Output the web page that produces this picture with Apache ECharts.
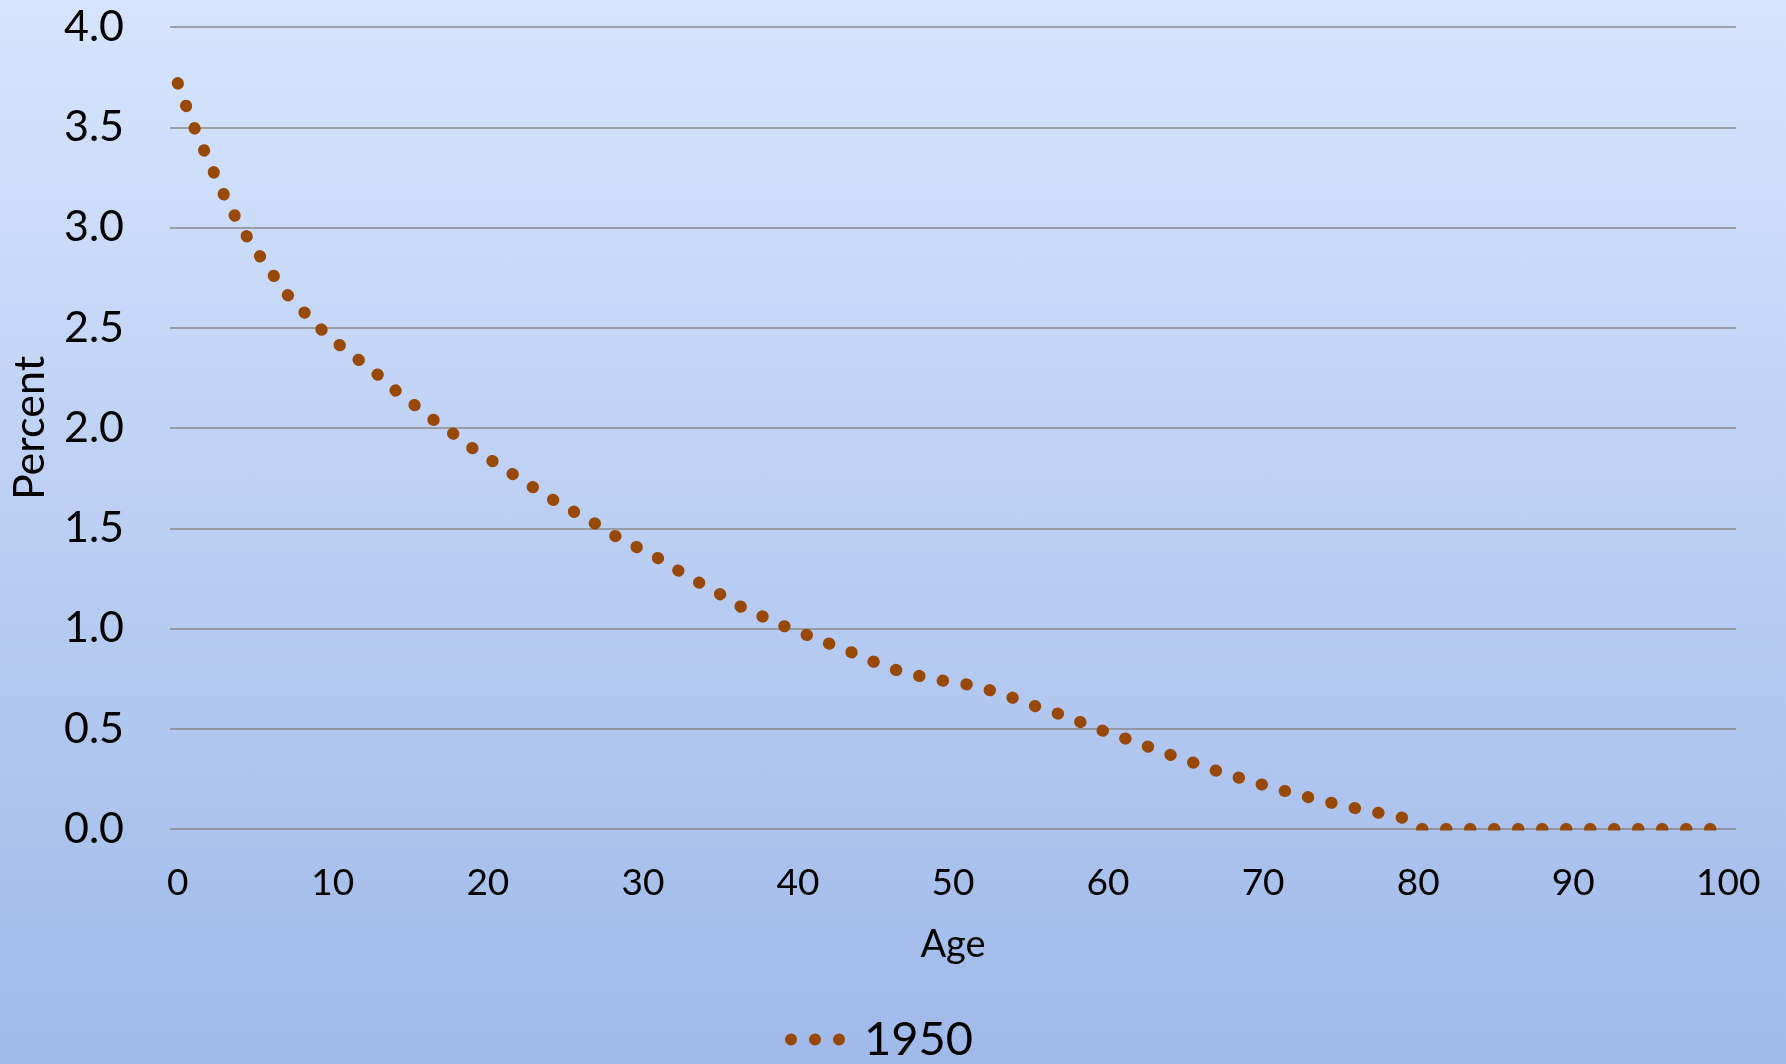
<!DOCTYPE html>
<html>
<head>
<meta charset="utf-8">
<script src="https://cdn.jsdelivr.net/npm/echarts@6/dist/echarts.min.js"></script>
<style>
  html, body { margin: 0; padding: 0; }
  #chart {
    width: 1786px;
    height: 1064px;
    background: linear-gradient(to bottom, #D6E4FD 0%, #A0B9E9 100%);
  }
</style>
</head>
<body>
<div id="chart"></div>
<script>
// Single-year ages 0..100 (category axis)
const ages = Array.from({ length: 101 }, (_, i) => String(i));

// Share of population at each age, 1950 (percent)
const pct1950 = [
  3.72, 3.51, 3.33, 3.16, 3.01, 2.89, 2.78, 2.67, 2.59, 2.51,
  2.44, 2.38, 2.32, 2.26, 2.19, 2.13, 2.07, 2.01, 1.96, 1.90,
  1.85, 1.80, 1.75, 1.70, 1.65, 1.61, 1.56, 1.52, 1.47, 1.43,
  1.39, 1.35, 1.30, 1.26, 1.21, 1.17, 1.12, 1.085, 1.05, 1.015,
  0.985, 0.955, 0.925, 0.895, 0.865, 0.83, 0.80, 0.78, 0.76, 0.745,
  0.73, 0.72, 0.70, 0.68, 0.65, 0.62, 0.595, 0.57, 0.54, 0.51,
  0.48, 0.455, 0.425, 0.40, 0.37, 0.345, 0.317, 0.29, 0.266, 0.243,
  0.22, 0.198, 0.177, 0.157, 0.138, 0.12, 0.103, 0.088, 0.072, 0.056,
  0, 0, 0, 0, 0, 0, 0, 0, 0, 0,
  0, 0, 0, 0, 0, 0, 0, 0, 0, 0,
  0
];

const seriesName = '1950';
const axisNames = { x: 'Age', y: 'Percent' };

const BG_TOP = '#D6E4FD';
const BG_BOTTOM = '#A0B9E9';
const LINE_COLOR = '#984807';
const FONT = 'Lato, "Open Sans", sans-serif';

const GRID = { left: 170, top: 27, width: 1566, height: 802 };

const chart = echarts.init(document.getElementById('chart'), null, { renderer: 'canvas' });

chart.setOption({
  backgroundColor: 'transparent',
  animation: false,
  grid: { left: GRID.left, top: GRID.top, width: GRID.width, height: GRID.height, containLabel: false },
  xAxis: {
    type: 'category',
    data: ages,
    boundaryGap: true,
    name: axisNames.x,
    nameLocation: 'middle',
    nameGap: 97,
    nameTextStyle: { fontFamily: FONT, fontSize: 38, color: '#000' },
    axisLine: { show: false },
    axisTick: { show: false },
    splitLine: { show: false },
    axisLabel: { interval: 9, fontFamily: FONT, fontSize: 37, color: '#000', margin: 36 }
  },
  yAxis: {
    type: 'value',
    min: 0,
    max: 4,
    interval: 0.5,
    name: axisNames.y,
    nameLocation: 'middle',
    nameGap: 118,
    nameTextStyle: { fontFamily: FONT, fontSize: 43, color: '#000' },
    axisLine: { show: false },
    axisTick: { show: false },
    splitLine: { show: true, lineStyle: { color: '#8a8a8a', width: 1.5 } },
    axisLabel: {
      fontFamily: FONT, fontSize: 43, color: '#000', margin: 46,
      formatter: v => v.toFixed(1)
    }
  },
  legend: {
    data: [seriesName],
    left: 785,
    top: 1016,
    padding: 0,
    itemWidth: 60,
    itemHeight: 12,
    icon: 'path://M0,6a6,6 0 1,0 12,0a6,6 0 1,0 -12,0Z M24,6a6,6 0 1,0 12,0a6,6 0 1,0 -12,0Z M48,6a6,6 0 1,0 12,0a6,6 0 1,0 -12,0Z',
    itemStyle: { color: LINE_COLOR, borderWidth: 0 },
    textStyle: { fontFamily: FONT, fontSize: 47, color: '#000', padding: [0, 0, 0, 14] }
  },
  series: [{
    name: seriesName,
    type: 'line',
    data: pct1950,
    symbol: 'none',
    showSymbol: false,
    color: LINE_COLOR,
    itemStyle: { color: LINE_COLOR, borderWidth: 0 },
    lineStyle: { color: LINE_COLOR, width: 12, type: [0.5, 23.5], cap: 'round', join: 'round' },
    z: 5
  }],
  // band just below the zero line, painted with the page gradient, so the
  // dotted line is cut off at the bottom edge of the plot area
  graphic: [{
    type: 'rect',
    z: 100,
    silent: true,
    shape: { x: GRID.left - 20, y: GRID.top + GRID.height + 1.5, width: GRID.width + 40, height: 12 },
    style: {
      fill: new echarts.graphic.LinearGradient(0, 0, 0, 1064, [
        { offset: 0, color: BG_TOP },
        { offset: 1, color: BG_BOTTOM }
      ], true)
    }
  }]
});
</script>
</body>
</html>
